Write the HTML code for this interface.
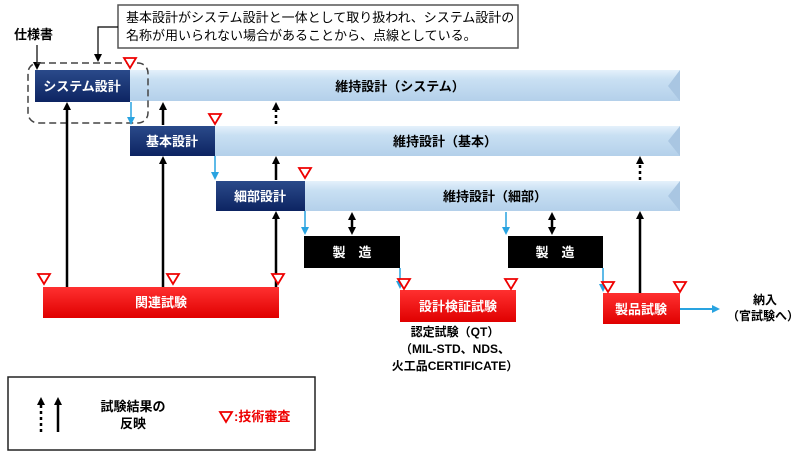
<!DOCTYPE html>
<html><head><meta charset="utf-8"><style>
body{margin:0;background:#fff}
svg{display:block;font-family:"Liberation Sans","Noto Sans CJK JP",sans-serif;font-weight:bold}
</style></head><body>
<svg width="800" height="455" viewBox="0 0 800 455" xmlns="http://www.w3.org/2000/svg">
<defs>
<linearGradient id="lb" x1="0" y1="0" x2="0" y2="1"><stop offset="0" stop-color="#e4f1fb"/><stop offset="0.3" stop-color="#c9e0f3"/><stop offset="1" stop-color="#b4d0ea"/></linearGradient>
<linearGradient id="db" x1="0" y1="0" x2="0" y2="1"><stop offset="0" stop-color="#2a4a8a"/><stop offset="1" stop-color="#0d2462"/></linearGradient>
<linearGradient id="rd" x1="0" y1="0" x2="0" y2="1"><stop offset="0" stop-color="#ff3030"/><stop offset="1" stop-color="#e00000"/></linearGradient>
<marker id="ah" markerWidth="8" markerHeight="8" refX="4" refY="4" orient="auto" markerUnits="userSpaceOnUse"><path d="M0,0 L8,4 L0,8 z" fill="#000"/></marker>
<marker id="bh" markerWidth="8" markerHeight="8" refX="4" refY="4" orient="auto" markerUnits="userSpaceOnUse"><path d="M0,0 L8,4 L0,8 z" fill="#29a3e0"/></marker>
<marker id="bs" markerWidth="8" markerHeight="8" refX="4" refY="4" orient="auto-start-reverse" markerUnits="userSpaceOnUse"><path d="M0,0 L8,4 L0,8 z" fill="#000"/></marker>
</defs>

<!-- callout -->
<rect x="118" y="5" width="400" height="43" fill="#fff" stroke="#555" stroke-width="1.5"/>
<text x="126" y="22" font-size="13" font-weight="normal">基本設計がシステム設計と一体として取り扱われ、システム設計の</text>
<text x="126" y="40" font-size="13" font-weight="normal">名称が用いられない場合があることから、点線としている。</text>
<polyline points="118,27 98,27 98,58" fill="none" stroke="#000" stroke-width="1.2" marker-end="url(#ah)"/>
<text x="14" y="39" font-size="13">仕様書</text>
<line x1="37" y1="45" x2="37" y2="66" stroke="#000" stroke-width="1.2" marker-end="url(#ah)"/>

<!-- bars -->
<rect x="130" y="70" width="550" height="31" fill="url(#lb)"/>
<path d="M680,70 L668,86 L680,101 z" fill="#a9c6e2"/>
<rect x="215" y="126" width="465" height="30" fill="url(#lb)"/>
<path d="M680,126 L668,141 L680,156 z" fill="#a9c6e2"/>
<rect x="305" y="181" width="375" height="30" fill="url(#lb)"/>
<path d="M680,181 L668,196 L680,211 z" fill="#a9c6e2"/>
<text x="400" y="91" font-size="13" text-anchor="middle">維持設計（システム）</text>
<text x="445" y="146" font-size="13" text-anchor="middle">維持設計（基本）</text>
<text x="495" y="201" font-size="13" text-anchor="middle">維持設計（細部）</text>

<rect x="35" y="70" width="95" height="32" fill="url(#db)"/>
<text x="82" y="91" font-size="13" fill="#fff" text-anchor="middle">システム設計</text>
<rect x="130" y="126" width="85" height="30" fill="url(#db)"/>
<text x="172" y="146" font-size="13" fill="#fff" text-anchor="middle">基本設計</text>
<rect x="216" y="181" width="89" height="30" fill="url(#db)"/>
<text x="260" y="201" font-size="13" fill="#fff" text-anchor="middle">細部設計</text>

<rect x="28" y="63" width="120" height="60" rx="10" fill="none" stroke="#444" stroke-width="1.5" stroke-dasharray="7,4"/>

<rect x="304" y="236" width="96" height="32" fill="#000"/>
<text x="352" y="257" font-size="13" fill="#fff" text-anchor="middle">製　造</text>
<rect x="508" y="236" width="95" height="32" fill="#000"/>
<text x="555" y="257" font-size="13" fill="#fff" text-anchor="middle">製　造</text>

<rect x="43" y="287" width="236" height="31" fill="url(#rd)"/>
<text x="161" y="307" font-size="13" fill="#fff" text-anchor="middle">関連試験</text>
<rect x="400" y="290" width="116" height="32" fill="url(#rd)"/>
<text x="458" y="311" font-size="13" fill="#fff" text-anchor="middle">設計検証試験</text>
<rect x="603" y="293" width="77" height="31" fill="url(#rd)"/>
<text x="641" y="314" font-size="13" fill="#fff" text-anchor="middle">製品試験</text>

<!-- black arrows -->
<g stroke="#000" stroke-width="2.5" fill="none">
<line x1="67" y1="287" x2="67" y2="106" marker-end="url(#ah)"/>
<line x1="163" y1="287" x2="163" y2="160" marker-end="url(#ah)"/>
<line x1="163" y1="125" x2="163" y2="106" marker-end="url(#ah)"/>
<line x1="276" y1="124" x2="276" y2="106" stroke-dasharray="3,3" marker-end="url(#ah)"/>
<line x1="276" y1="180" x2="276" y2="160" marker-end="url(#ah)"/>
<line x1="276" y1="287" x2="276" y2="215" marker-end="url(#ah)"/>
<line x1="352" y1="216" x2="352" y2="231" marker-start="url(#bs)" marker-end="url(#bs)"/>
<line x1="552" y1="216" x2="552" y2="231" marker-start="url(#bs)" marker-end="url(#bs)"/>
<line x1="640" y1="180" x2="640" y2="160" stroke-dasharray="3,3" marker-end="url(#ah)"/>
<line x1="640" y1="293" x2="640" y2="215" marker-end="url(#ah)"/>
</g>
<!-- blue connectors -->
<g stroke="#29a3e0" stroke-width="1.5" fill="none">
<line x1="131" y1="102" x2="131" y2="121" marker-end="url(#bh)"/>
<line x1="215" y1="156" x2="215" y2="176" marker-end="url(#bh)"/>
<line x1="305" y1="211" x2="305" y2="231" marker-end="url(#bh)"/>
<line x1="400" y1="268" x2="400" y2="285" marker-end="url(#bh)"/>
<line x1="506" y1="212" x2="506" y2="231" marker-end="url(#bh)"/>
<line x1="603" y1="268" x2="603" y2="288" marker-end="url(#bh)"/>
<line x1="680" y1="309" x2="716" y2="309" stroke-width="2" marker-end="url(#bh)"/>
</g>
<!-- review triangles -->
<g fill="#fff" stroke="#e00" stroke-width="1.8">
<path d="M124,58 H136 L130,68 z"/>
<path d="M209,114 H221 L215,124 z"/>
<path d="M299,168 H311 L305,178 z"/>
<path d="M38,274 H50 L44,284 z"/>
<path d="M167,274 H179 L173,284 z"/>
<path d="M272,274 H284 L278,284 z"/>
<path d="M398,279 H410 L404,289 z"/>
<path d="M505,279 H517 L511,289 z"/>
<path d="M602,282 H614 L608,292 z"/>
<path d="M674,282 H686 L680,292 z"/>
</g>

<text x="765" y="304" font-size="12" text-anchor="middle">納入</text>
<text x="763" y="320" font-size="12" text-anchor="middle">（官試験へ）</text>
<text x="455" y="336" font-size="12" text-anchor="middle">認定試験（QT）</text>
<text x="455" y="353" font-size="12" text-anchor="middle">（MIL-STD、NDS、</text>
<text x="455" y="370" font-size="12" text-anchor="middle">火工品CERTIFICATE）</text>

<!-- legend -->
<rect x="8" y="377" width="307" height="73" fill="#fff" stroke="#222" stroke-width="1.5"/>
<line x1="41" y1="432" x2="41" y2="401" stroke="#000" stroke-width="2.5" stroke-dasharray="3,3" marker-end="url(#ah)"/>
<line x1="58" y1="432" x2="58" y2="401" stroke="#000" stroke-width="2.5" marker-end="url(#ah)"/>
<text x="133" y="411" font-size="13" text-anchor="middle">試験結果の</text>
<text x="133" y="428" font-size="13" text-anchor="middle">反映</text>
<path d="M220,412 H232 L226,422 z" fill="#fff" stroke="#e00" stroke-width="1.8"/>
<text x="234" y="421" font-size="13" fill="#e00">:技術審査</text>
</svg>
</body></html>
